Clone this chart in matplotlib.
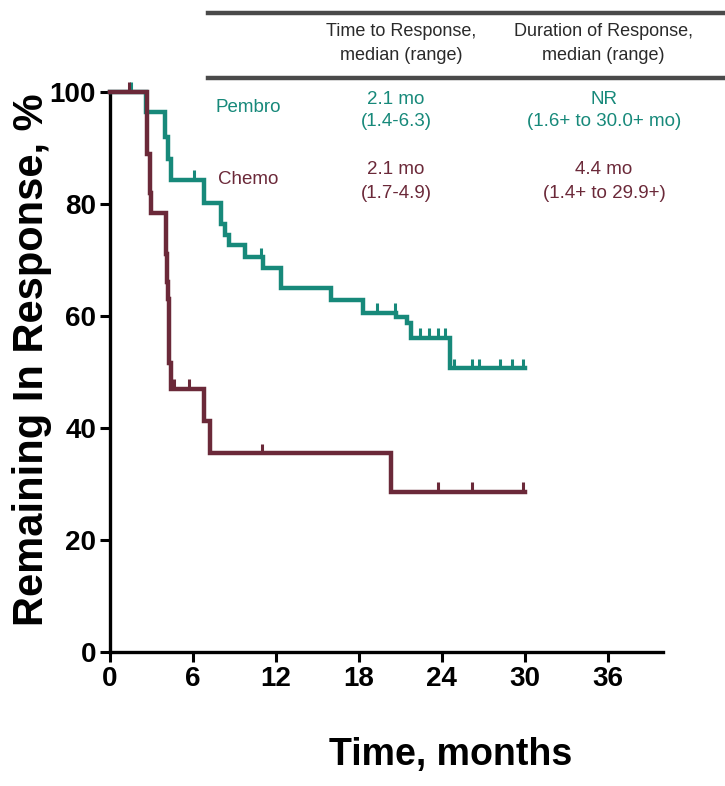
import matplotlib
matplotlib.use("Agg")
import matplotlib.pyplot as plt
from matplotlib import font_manager as fm

names = sorted({f.name for f in fm.fontManager.ttflist})
narrow = "Liberation Sans Narrow" if "Liberation Sans Narrow" in names else "Liberation Sans"

# ---- data ----
pembro_times = [0, 2.6, 4.0, 4.2, 4.4, 6.8, 8.0, 8.3, 8.6, 9.8, 11.1, 12.4, 16.0, 18.3, 20.7, 21.5, 21.8, 24.6]
pembro_surv = [100, 96.4, 92.0, 88.0, 84.3, 80.2, 76.5, 74.5, 72.7, 70.5, 68.6, 65.0, 62.8, 60.6, 59.8, 58.7, 56.1, 50.7]
pembro_end = 30.0
pembro_cens_t = [1.5, 6.1, 10.9, 19.3, 20.6, 22.4, 23.1, 23.7, 24.2, 24.9, 26.2, 26.7, 28.2, 29.1, 29.9]
pembro_cens_s = [100, 84.3, 70.5, 60.6, 60.6, 56.1, 56.1, 56.1, 56.1, 50.7, 50.7, 50.7, 50.7, 50.7, 50.7]

chemo_times = [0, 2.7, 2.9, 3.0, 4.05, 4.1, 4.2, 4.3, 4.4, 6.8, 7.2, 20.3]
chemo_surv = [100, 89.0, 82.0, 78.4, 71.0, 66.0, 63.0, 51.6, 47.0, 41.3, 35.5, 28.6]
chemo_end = 30.0
chemo_cens_t = [1.4, 4.6, 5.7, 11.0, 23.7, 26.2, 29.9]
chemo_cens_s = [100, 47.0, 47.0, 35.5, 28.6, 28.6, 28.6]

x_ticks = [0, 6, 12, 18, 24, 30, 36]
y_ticks = [0, 20, 40, 60, 80, 100]

teal = "#17897a"
maroon = "#6b2939"

fig = plt.figure(figsize=(7.25, 7.86), dpi=100)
ax = fig.add_axes([110/725, 1-652/786, 553/725, 560/786])

def draw(times, surv, end, ct, cs, color):
    t = list(times) + [end]
    s = list(surv) + [surv[-1]]
    ax.step(t, s, where="post", color=color, lw=3.2, clip_on=False, solid_joinstyle="miter", zorder=3)
    ax.vlines(ct, cs, [v + 1.7 for v in cs], color=color, lw=2.2, clip_on=False, zorder=3)

draw(pembro_times, pembro_surv, pembro_end, pembro_cens_t, pembro_cens_s, teal)
draw(chemo_times, chemo_surv, chemo_end, chemo_cens_t, chemo_cens_s, maroon)

ax.set_xlim(0, 40)
ax.set_ylim(0, 100)
ax.set_xticks(x_ticks)
ax.set_yticks(y_ticks)
for side in ("top", "right"):
    ax.spines[side].set_visible(False)
for side in ("left", "bottom"):
    ax.spines[side].set_linewidth(2.4)
ax.tick_params(direction="out", length=7, width=2.2, pad=3)
for lab in ax.get_xticklabels() + ax.get_yticklabels():
    lab.set_fontfamily(narrow)
    lab.set_fontweight("bold")
    lab.set_fontsize(20)

fig.text(32/725, 1-360/786, "Remaining In Response, %", rotation=90, ha="center", va="center",
         fontsize=30, fontweight="bold", family="Liberation Sans")
fig.text(451/725, 1-755/786, "Time, months", ha="center", va="center",
         fontsize=27, fontweight="bold", family=narrow)

# table
for yy in (13, 78):
    fig.add_artist(plt.Line2D([208/725, 1.0], [1-yy/786, 1-yy/786], color="#4a4a4a", lw=3.2))

hdr = dict(ha="center", va="center", fontsize=13, family=narrow, color="#2a2a2a")
fig.text(401/725, 1-32/786, "Time to Response,", **hdr)
fig.text(401/725, 1-55/786, "median (range)", **hdr)
fig.text(603/725, 1-32/786, "Duration of Response,", **hdr)
fig.text(603/725, 1-55/786, "median (range)", **hdr)

row = dict(ha="center", va="center", fontsize=13.5, family=narrow)
fig.text(248/725, 1-108/786, "Pembro", color=teal, **row)
fig.text(396/725, 1-99/786, "2.1 mo", color=teal, **row)
fig.text(396/725, 1-122/786, "(1.4-6.3)", color=teal, **row)
fig.text(604/725, 1-99/786, "NR", color=teal, **row)
fig.text(604/725, 1-122/786, "(1.6+ to 30.0+ mo)", color=teal, **row)

fig.text(248/725, 1-180/786, "Chemo", color=maroon, **row)
fig.text(396/725, 1-170/786, "2.1 mo", color=maroon, **row)
fig.text(396/725, 1-193/786, "(1.7-4.9)", color=maroon, **row)
fig.text(604/725, 1-170/786, "4.4 mo", color=maroon, **row)
fig.text(604/725, 1-193/786, "(1.4+ to 29.9+)", color=maroon, **row)

fig.savefig("out.png", dpi=100)
